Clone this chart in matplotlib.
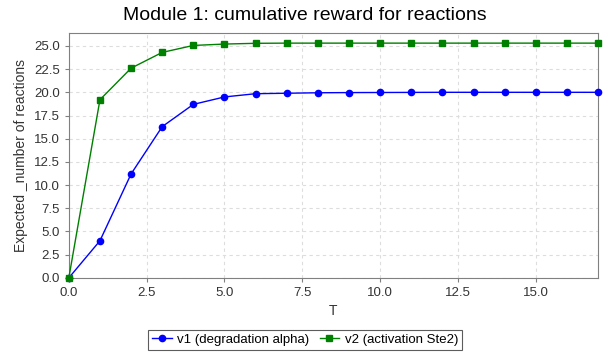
import matplotlib
matplotlib.use("Agg")
import matplotlib.pyplot as plt

plt.rcParams["font.family"] = ["Liberation Sans", "DejaVu Sans"]

# data
t = list(range(18))
v1 = [0.0, 4.0, 11.2, 16.3, 18.7, 19.5, 19.85, 19.9, 19.95, 19.97, 19.98, 19.99,
      20.0, 20.0, 20.0, 20.0, 20.0, 20.0]
v2 = [0.0, 19.2, 22.6, 24.3, 25.05, 25.2, 25.28, 25.3, 25.3, 25.3, 25.3, 25.3,
      25.3, 25.3, 25.3, 25.3, 25.3, 25.3]
labels = ["v1 (degradation alpha)", "v2 (activation Ste2)"]
xticks = [0, 2.5, 5, 7.5, 10, 12.5, 15]
yticks = [i * 2.5 for i in range(11)]

fig = plt.figure(figsize=(6.09, 3.54), dpi=100)
ax = fig.add_axes([0.113, 0.215, 0.869, 0.692])

ax.plot(t, v1, color="#0000ff", marker="o", markersize=4.5, linewidth=1,
        label=labels[0], clip_on=False, zorder=3)
ax.plot(t, v2, color="#008000", marker="s", markersize=4.5, linewidth=1,
        label=labels[1], clip_on=False, zorder=3)

ax.set_xlim(0, 17)
ax.set_ylim(0, 26.4)
ax.set_xticks(xticks)
ax.set_xticklabels(["%.1f" % x for x in xticks])
ax.set_yticks(yticks)
ax.set_yticklabels(["%.1f" % y for y in yticks])

ax.grid(True, color="#dddddd", linestyle=(0, (3, 3)), linewidth=0.8)
for s in ax.spines.values():
    s.set_color("#808080")
ax.tick_params(colors="#808080", labelcolor="#333333", labelsize=9.5, length=3)

ax.set_xlabel("T", fontsize=10, color="#333333")
ax.set_ylabel("Expected _number of reactions", fontsize=10, color="#333333")
fig.suptitle("Module 1: cumulative reward for reactions", fontsize=14, y=0.98)

leg = ax.legend(loc="upper center", bbox_to_anchor=(0.446, -0.185), ncol=2,
                fontsize=9.5, frameon=True, fancybox=False, handlelength=1.5,
                columnspacing=0.8, handletextpad=0.4, borderpad=0.3)
leg.get_frame().set_edgecolor("#333333")
leg.get_frame().set_linewidth(0.8)

fig.savefig("out.png", dpi=100)
